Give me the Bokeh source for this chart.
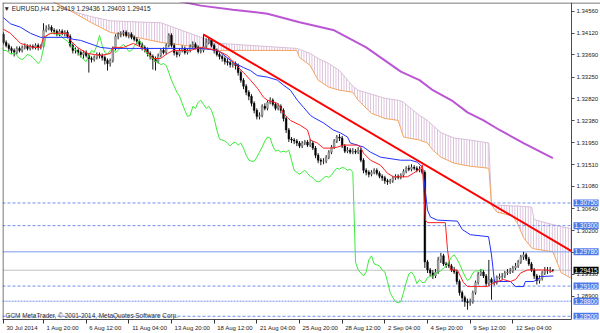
from bokeh.plotting import figure
from bokeh.models import (Range1d, FixedTicker, PrintfTickFormatter, Span, Label,
                          ColumnDataSource, CustomJSTickFormatter)
from bokeh.embed import file_html
from bokeh.resources import INLINE

# ---------------- data (EURUSD H4) ----------------
first_open = 1.3410
closes = [
    1.3394, 1.3388, 1.3382, 1.3378, 1.3374, 1.3382, 1.3378, 1.3384, 1.3386, 1.3382,
    1.3386, 1.3384, 1.3388, 1.3384, 1.3386, 1.3418, 1.3422, 1.3424, 1.3418, 1.3416,
    1.3410, 1.3416, 1.3412, 1.3414, 1.3406, 1.3388, 1.3378, 1.3378, 1.3374, 1.3370,
    1.3374, 1.3368, 1.3362, 1.3360, 1.3364, 1.3370, 1.3368, 1.3364, 1.3358, 1.3352,
    1.3358, 1.3382, 1.3406, 1.3410, 1.3412, 1.3414, 1.3408, 1.3410, 1.3404, 1.3400,
    1.3396, 1.3390, 1.3384, 1.3380, 1.3372, 1.3366, 1.3360, 1.3356, 1.3368, 1.3378,
    1.3374, 1.3388, 1.3408, 1.3388, 1.3374, 1.3370, 1.3378, 1.3382, 1.3374, 1.3378,
    1.3386, 1.3390, 1.3384, 1.3376, 1.3378, 1.3386, 1.3394, 1.3398, 1.3388, 1.3378,
    1.3370, 1.3366, 1.3362, 1.3356, 1.3354, 1.3350, 1.3352, 1.3348, 1.3334, 1.3319,
    1.3307, 1.3295, 1.3287, 1.3273, 1.3259, 1.3247, 1.3249, 1.3267, 1.3263, 1.3275,
    1.3279, 1.3271, 1.3263, 1.3267, 1.3259, 1.3243, 1.3220, 1.3202, 1.3200, 1.3198,
    1.3194, 1.3188, 1.3194, 1.3196, 1.3190, 1.3194, 1.3184, 1.3170, 1.3160, 1.3158,
    1.3158, 1.3166, 1.3176, 1.3186, 1.3198, 1.3206, 1.3204, 1.3188, 1.3178, 1.3180,
    1.3176, 1.3178, 1.3176, 1.3180, 1.3160, 1.3140, 1.3136, 1.3132, 1.3136, 1.3140,
    1.3134, 1.3128, 1.3125, 1.3119, 1.3117, 1.3119, 1.3125, 1.3128, 1.3126, 1.3130,
    1.3138, 1.3144, 1.3142, 1.3146, 1.3144, 1.3140, 1.3142, 1.3136, 1.2958, 1.2942,
    1.2936, 1.2930, 1.2938, 1.2962, 1.2970, 1.2954, 1.2952, 1.2950, 1.2942, 1.2938,
    1.2919, 1.2897, 1.2887, 1.2879, 1.2877, 1.2879, 1.2897, 1.2917, 1.2934, 1.2938,
    1.2930, 1.2915, 1.2923, 1.2917, 1.2917, 1.2927, 1.2929, 1.2930, 1.2936, 1.2938,
    1.2940, 1.2946, 1.2950, 1.2958, 1.2968, 1.2972, 1.2964, 1.2954, 1.2942, 1.2930,
    1.2921, 1.2925, 1.2936, 1.2940, 1.2940, 1.2942, 1.29415]
highs = [
    1.3414, 1.3398, 1.3392, 1.3386, 1.3382, 1.3386, 1.3386, 1.3388, 1.3392, 1.3390,
    1.3390, 1.3390, 1.3392, 1.3392, 1.3390, 1.3432, 1.3428, 1.3430, 1.3428, 1.3422,
    1.3420, 1.3420, 1.3420, 1.3418, 1.3418, 1.3410, 1.3392, 1.3384, 1.3382, 1.3378,
    1.3378, 1.3378, 1.3372, 1.3366, 1.3368, 1.3374, 1.3374, 1.3372, 1.3368, 1.3362,
    1.3362, 1.3386, 1.3410, 1.3414, 1.3416, 1.3418, 1.3418, 1.3414, 1.3414, 1.3408,
    1.3404, 1.3400, 1.3394, 1.3388, 1.3384, 1.3376, 1.3370, 1.3366, 1.3372, 1.3382,
    1.3384, 1.3392, 1.3412, 1.3412, 1.3392, 1.3378, 1.3382, 1.3388, 1.3386, 1.3382,
    1.3390, 1.3396, 1.3394, 1.3388, 1.3384, 1.3410, 1.3402, 1.3404, 1.3402, 1.3392,
    1.3382, 1.3374, 1.3370, 1.3366, 1.3362, 1.3358, 1.3358, 1.3356, 1.3352, 1.3338,
    1.3323, 1.3311, 1.3299, 1.3291, 1.3277, 1.3263, 1.3255, 1.3271, 1.3273, 1.3279,
    1.3285, 1.3283, 1.3275, 1.3273, 1.3271, 1.3263, 1.3247, 1.3224, 1.3206, 1.3204,
    1.3202, 1.3198, 1.3198, 1.3200, 1.3200, 1.3202, 1.3198, 1.3188, 1.3174, 1.3164,
    1.3164, 1.3170, 1.3180, 1.3190, 1.3202, 1.3210, 1.3212, 1.3208, 1.3192, 1.3186,
    1.3184, 1.3184, 1.3182, 1.3186, 1.3184, 1.3164, 1.3144, 1.3140, 1.3140, 1.3144,
    1.3144, 1.3138, 1.3132, 1.3129, 1.3123, 1.3123, 1.3129, 1.3132, 1.3132, 1.3134,
    1.3142, 1.3148, 1.3150, 1.3152, 1.3150, 1.3148, 1.3148, 1.3150, 1.3140, 1.2962,
    1.2946, 1.2942, 1.2944, 1.2968, 1.2976, 1.2974, 1.2958, 1.2958, 1.2954, 1.2948,
    1.2942, 1.2923, 1.2901, 1.2891, 1.2885, 1.2885, 1.2901, 1.2921, 1.2938, 1.2944,
    1.2942, 1.2934, 1.2962, 1.2927, 1.2923, 1.2931, 1.2935, 1.2936, 1.2940, 1.2944,
    1.2946, 1.2950, 1.2956, 1.2962, 1.2972, 1.2978, 1.2976, 1.2968, 1.2958, 1.2946,
    1.2934, 1.2931, 1.2940, 1.2948, 1.2948, 1.2948, 1.29436]
lows = [
    1.3390, 1.3384, 1.3376, 1.3372, 1.3366, 1.3370, 1.3374, 1.3374, 1.3380, 1.3378,
    1.3378, 1.3380, 1.3380, 1.3378, 1.3380, 1.3382, 1.3414, 1.3418, 1.3414, 1.3410,
    1.3406, 1.3406, 1.3408, 1.3406, 1.3402, 1.3384, 1.3372, 1.3372, 1.3368, 1.3364,
    1.3362, 1.3364, 1.3334, 1.3354, 1.3356, 1.3360, 1.3362, 1.3358, 1.3350, 1.3338,
    1.3346, 1.3354, 1.3378, 1.3400, 1.3404, 1.3406, 1.3404, 1.3402, 1.3400, 1.3396,
    1.3390, 1.3386, 1.3378, 1.3374, 1.3366, 1.3360, 1.3340, 1.3338, 1.3352, 1.3364,
    1.3370, 1.3370, 1.3384, 1.3384, 1.3368, 1.3364, 1.3366, 1.3374, 1.3370, 1.3370,
    1.3374, 1.3382, 1.3380, 1.3372, 1.3372, 1.3374, 1.3382, 1.3390, 1.3384, 1.3372,
    1.3366, 1.3360, 1.3356, 1.3350, 1.3348, 1.3344, 1.3344, 1.3340, 1.3328, 1.3314,
    1.3301, 1.3289, 1.3279, 1.3267, 1.3253, 1.3241, 1.3241, 1.3245, 1.3259, 1.3259,
    1.3271, 1.3267, 1.3259, 1.3259, 1.3253, 1.3237, 1.3214, 1.3196, 1.3194, 1.3192,
    1.3188, 1.3184, 1.3184, 1.3190, 1.3186, 1.3186, 1.3180, 1.3164, 1.3154, 1.3150,
    1.3152, 1.3154, 1.3162, 1.3172, 1.3182, 1.3194, 1.3198, 1.3184, 1.3174, 1.3174,
    1.3172, 1.3172, 1.3172, 1.3172, 1.3156, 1.3134, 1.3130, 1.3126, 1.3128, 1.3132,
    1.3130, 1.3124, 1.3119, 1.3113, 1.3111, 1.3113, 1.3115, 1.3121, 1.3122, 1.3122,
    1.3126, 1.3134, 1.3138, 1.3138, 1.3140, 1.3136, 1.3136, 1.3132, 1.2946, 1.2936,
    1.2930, 1.2924, 1.2926, 1.2934, 1.2956, 1.2950, 1.2946, 1.2946, 1.2938, 1.2934,
    1.2913, 1.2891, 1.2879, 1.2869, 1.2863, 1.2871, 1.2875, 1.2893, 1.2913, 1.2930,
    1.2926, 1.2909, 1.2911, 1.2883, 1.2911, 1.2913, 1.2923, 1.2923, 1.2926, 1.2932,
    1.2934, 1.2936, 1.2942, 1.2946, 1.2954, 1.2962, 1.2960, 1.2950, 1.2938, 1.2924,
    1.2913, 1.2915, 1.2921, 1.2932, 1.2934, 1.2936, 1.29403]

# Ichimoku lines (bar index, price)
tenkan_x = [0, 2.6, 6.4, 11.2, 13.9, 15, 17.6, 24, 25.1, 27.7, 31.5, 36.4, 40.1, 41.2, 45,
            48.7, 52.5, 56.2, 58.9, 61.5, 63.7, 70.1, 73.9, 80.2, 84, 86.2, 90, 92.6, 95.2,
            97.5, 99, 102.7, 103.9, 105, 106.5, 107.6, 111.4, 114, 115.1, 117.7, 120, 122.6,
            125.2, 127.5, 132.7, 133.9, 135, 137.6, 141.4, 144, 146.2, 151.5, 153.7, 156.4,
            157.1, 158.2, 159, 165.7, 166.5, 167.6, 170.2, 171.4, 172.5, 174, 181.5, 182.6,
            185.2, 187.5, 190.1, 192, 193.9, 196.5, 204, 206.2]
tenkan_y = [1.3420, 1.3412, 1.3392, 1.3384, 1.3384, 1.3404, 1.3412, 1.3412, 1.3398, 1.3384,
            1.3372, 1.3368, 1.3372, 1.3384, 1.3384, 1.3392, 1.3382, 1.3362, 1.3362, 1.3372,
            1.3378, 1.3378, 1.3384, 1.3378, 1.3368, 1.3354, 1.3334, 1.3319, 1.3303, 1.3285,
            1.3279, 1.3273, 1.3265, 1.3253, 1.3245, 1.3239, 1.3229, 1.3220, 1.3200, 1.3194,
            1.3184, 1.3184, 1.3186, 1.3190, 1.3190, 1.3186, 1.3174, 1.3160, 1.3150, 1.3134,
            1.3127, 1.3127, 1.3134, 1.3144, 1.3150, 1.3041, 1.3036, 1.3036, 1.2982, 1.2942,
            1.2942, 1.2929, 1.2917, 1.2909, 1.2909, 1.2913, 1.2919, 1.2923, 1.2919, 1.2923,
            1.2936, 1.2942, 1.2942, 1.2938]
kijun_x = [0, 2.6, 6.4, 10.1, 13.9, 24, 26.2, 28.9, 36.4, 40.1, 73.9, 80.2, 81.4, 86.2, 90,
           92.6, 95.2, 99, 102.7, 105, 107.6, 110.2, 112.5, 115.1, 116.2, 120, 123.7, 126.4,
           129, 130.1, 132.7, 135, 137.6, 141.4, 148.9, 152.6, 155.2, 157.1, 157.9, 159,
           160.1, 162.7, 170.2, 172.1, 175.1, 181.9, 183, 184.1, 190.1, 192, 195, 195.7,
           198.7, 200.2, 201.4, 206.2]
kijun_y = [1.3443, 1.3431, 1.3424, 1.3412, 1.3404, 1.3404, 1.3400, 1.3398, 1.3384, 1.3382,
           1.3382, 1.3378, 1.3374, 1.3354, 1.3344, 1.3338, 1.3328, 1.3325, 1.3319, 1.3309,
           1.3299, 1.3279, 1.3265, 1.3249, 1.3245, 1.3234, 1.3220, 1.3214, 1.3206, 1.3194,
           1.3190, 1.3186, 1.3176, 1.3166, 1.3160, 1.3160, 1.3156, 1.3146, 1.3111, 1.3061,
           1.3047, 1.3041, 1.3039, 1.3022, 1.3012, 1.3008, 1.2972, 1.2919, 1.2919, 1.2909,
           1.2909, 1.2919, 1.2919, 1.2923, 1.2929, 1.2930]
kumo_x = [12, 16, 20, 25, 33, 40, 48, 59, 74, 81, 110, 111, 115, 118, 122, 126, 131, 133,
          138, 143, 148, 150, 156, 159, 161, 164, 169, 175, 182, 183, 185, 191, 193, 195,
          198, 199, 206, 208, 209, 213]
span_a = [1.3497, 1.3481, 1.3471, 1.3457, 1.3433, 1.3414, 1.3406, 1.3394, 1.3384, 1.3378,
          1.3378, 1.3364, 1.3348, 1.3319, 1.3305, 1.3299, 1.3295, 1.3279, 1.3253, 1.3243,
          1.3239, 1.3206, 1.3200, 1.3194, 1.3180, 1.3166, 1.3154, 1.3148, 1.3144, 1.3071,
          1.3057, 1.3049, 1.3032, 1.3006, 1.2986, 1.2984, 1.2978, 1.2952, 1.2937, 1.2925]
span_b = [1.3497, 1.3481, 1.3471, 1.3457, 1.3445, 1.3437, 1.3435, 1.3433, 1.3404, 1.3392,
          1.3382, 1.3380, 1.3372, 1.3362, 1.3352, 1.3338, 1.3307, 1.3299, 1.3291, 1.3283,
          1.3279, 1.3275, 1.3249, 1.3239, 1.3229, 1.3215, 1.3204, 1.3200, 1.3194, 1.3071,
          1.3071, 1.3069, 1.3069, 1.3068, 1.3067, 1.3042, 1.3032, 1.3030, 1.3028, 1.3024]
ma_x = [61, 74, 86, 99, 111, 124, 136, 149, 156, 161, 168, 174, 180, 186, 195, 206]
ma_y = [1.3481, 1.3467, 1.3459, 1.3451, 1.3434, 1.3418, 1.3384, 1.3336, 1.3319, 1.3299,
        1.3279, 1.3255, 1.3239, 1.3220, 1.3194, 1.3164]
trend_x = [74.9, 158.0]
trend_y = [1.3410, 1.3151]
level_prices = [1.30750, 1.30300, 1.29780, 1.29100, 1.28800, 1.28500]
level_styles = ["dash", "dash", "solid", "dash", "dot", "dash"]
bid_price = 1.29415
ytick_values = [1.34560, 1.34120, 1.33690, 1.33250, 1.32820, 1.32380, 1.31950, 1.31510,
                1.31080, 1.30640, 1.30200, 1.29770, 1.29330, 1.28900]
xtick_bars = [0, 15, 31, 47, 63, 79, 95, 111, 127, 143, 159, 175, 191]
xtick_labels = ["30 Jul 2014", "1 Aug 20:00", "6 Aug 12:00", "11 Aug 04:00", "13 Aug 20:00",
                "18 Aug 12:00", "21 Aug 04:00", "25 Aug 20:00", "28 Aug 12:00", "2 Sep 04:00",
                "4 Sep 20:00", "9 Sep 12:00", "12 Sep 04:00"]
header = "\u25BC EURUSD,H4  1.29419 1.29436 1.29403 1.29415"
footer = "GCM MetaTrader, \u00A9 2001-2014, MetaQuotes Software Corp."

# ---------------- geometry ----------------
FONT = "Liberation Sans"
PX_PER_BAR = 569.0 / 213.375          # chart area 569 px wide
X0 = -0.375                           # left edge of chart area
XR = 213.0                            # right edge of chart area (price scale starts here)
X1 = X0 + 598.0 / PX_PER_BAR          # frame also covers the price-scale strip
Y0, Y1 = 1.28436, 1.34732

p = figure(width=600, height=333, output_backend="svg", toolbar_location=None,
           x_range=Range1d(X0, X1), y_range=Range1d(Y0, Y1), y_axis_location="right",
           min_border_left=2, min_border_top=2, min_border_right=0, min_border_bottom=13)
p.grid.visible = False
p.background_fill_color = "white"
p.border_fill_color = "white"
p.outline_line_color = None

# chart borders (left / top)
p.add_layout(Span(location=X0 + 0.5 / PX_PER_BAR, dimension="height", line_color="#4d4d4d", line_width=1))
p.add_layout(Span(location=Y1 - 0.5 / 5051.0, dimension="width", line_color="#4d4d4d", line_width=1))

# cloud
p.varea(x=kumo_x, y1=span_a, y2=span_b, fill_alpha=0, hatch_pattern="|",
        hatch_color="#D6B8D6", hatch_scale=2.67, hatch_weight=1)
p.line(kumo_x, span_b, line_color="#D8BFD8", line_width=1)
p.line(kumo_x, span_a, line_color="#F4A460", line_width=1)

# moving average
p.line(ma_x, ma_y, line_color="#BA55D3", line_width=2)

# horizontal levels (stop at the price scale)
dash_map = {"dash": "3 2", "dot": "2 1", "solid": "solid"}
for price, st in zip(level_prices, level_styles):
    p.segment(x0=[X0], y0=[price], x1=[XR], y1=[price],
              line_color="#7E9CF0" if st == "solid" else "#6E8EEE",
              line_width=1, line_dash=dash_map[st])
p.segment(x0=[X0], y0=[bid_price], x1=[XR], y1=[bid_price], line_color="#C0C0C0", line_width=1)

# candles
opens = [first_open] + closes[:-1]
bars = list(range(len(closes)))
p.segment(x0=bars, y0=lows, x1=bars, y1=highs, line_color="#1a1a1a", line_width=1)
bull = [i for i in bars if closes[i] >= opens[i]]
bear = [i for i in bars if closes[i] < opens[i]]
src_bull = ColumnDataSource(dict(x=bull, top=[closes[i] for i in bull], bottom=[opens[i] for i in bull]))
src_bear = ColumnDataSource(dict(x=bear, top=[opens[i] for i in bear], bottom=[closes[i] for i in bear]))
p.vbar(x="x", top="top", bottom="bottom", width=0.62, source=src_bull,
       fill_color="#b4b4b4", line_color="#5a5a5a", line_width=0.5)
p.vbar(x="x", top="top", bottom="bottom", width=0.62, source=src_bear,
       fill_color="#000000", line_color="#000000", line_width=0.5)

# ichimoku lines
p.line([i - 26 for i in bars], closes, line_color="#3CEB3C", line_width=1)
p.line(kijun_x, kijun_y, line_color="#2030FF", line_width=1)
p.line(tenkan_x, tenkan_y, line_color="#FF2020", line_width=1)

# trend line (ray extended to the price scale)
slope = (trend_y[1] - trend_y[0]) / (trend_x[1] - trend_x[0])
p.line([trend_x[0], XR], [trend_y[0], trend_y[0] + slope * (XR - trend_x[0])],
       line_color="#FF0000", line_width=2)

# ---------------- axes ----------------
ya = p.yaxis[0]
ya.fixed_location = XR
ya.ticker = FixedTicker(ticks=ytick_values)
ya.formatter = PrintfTickFormatter(format="%.5f")
ya.major_tick_out = 3
ya.major_tick_in = 0
ya.minor_tick_line_color = None
ya.major_label_standoff = 2
ya.major_label_text_font = FONT
ya.major_label_text_font_size = "6px"
ya.major_label_text_color = "#222222"
ya.axis_line_color = "#4d4d4d"
ya.major_tick_line_color = "#4d4d4d"

def label_w(s):
    w = 0.0
    for ch in s:
        if ch.isdigit():
            w += 3.34
        elif ch in " :":
            w += 1.67
        elif ch in "lJ":
            w += 2.0
        else:
            w += 3.6
    return w
centers = [b + (3.0 + label_w(s) / 2.0) / PX_PER_BAR for b, s in zip(xtick_bars, xtick_labels)]
xa = p.xaxis[0]
xa.bounds = (X0, XR)
xa.ticker = FixedTicker(ticks=centers, minor_ticks=xtick_bars)
xa.formatter = CustomJSTickFormatter(args=dict(pos=centers, labs=xtick_labels), code="""
let best = 0, bd = 1e9;
for (let i = 0; i < pos.length; i++) { const d = Math.abs(pos[i] - tick); if (d < bd) { bd = d; best = i; } }
return labs[best];
""")
xa.major_tick_out = 0
xa.major_tick_in = 0
xa.minor_tick_out = 4
xa.minor_tick_in = 0
xa.minor_tick_line_color = "#333333"
xa.major_label_standoff = 1
xa.major_label_text_font = FONT
xa.major_label_text_font_size = "6px"
xa.major_label_text_color = "#222222"
xa.axis_line_color = "#4d4d4d"

# ---------------- price boxes on the price scale ----------------
lab_x = XR + 2.0 / PX_PER_BAR
for price in level_prices:
    p.add_layout(Label(x=lab_x, y=price, text="%.5f" % price, text_font=FONT,
                       text_font_size="6.4px", text_color="white", text_baseline="middle",
                       text_align="left", background_fill_color="#4F78E8", padding=1))
p.add_layout(Label(x=lab_x, y=bid_price, text="%.5f" % bid_price, text_font=FONT,
                   text_font_size="6.4px", text_color="white", text_baseline="middle",
                   text_align="left", background_fill_color="#000000", padding=1))

p.add_layout(Label(x=X0 + 1.0 / PX_PER_BAR, y=Y1 - 6.0 / 5051.0, text=header, text_font=FONT,
                   text_font_size="6.5px", text_color="#222222", text_baseline="middle",
                   text_align="left"))
p.add_layout(Label(x=X0 + 3.0 / PX_PER_BAR, y=Y0 + 4.0 / 5051.0, text=footer, text_font=FONT,
                   text_font_size="6.4px", text_color="#333333", text_baseline="middle",
                   text_align="left"))

open("out.html", "w").write(file_html(p, INLINE))
